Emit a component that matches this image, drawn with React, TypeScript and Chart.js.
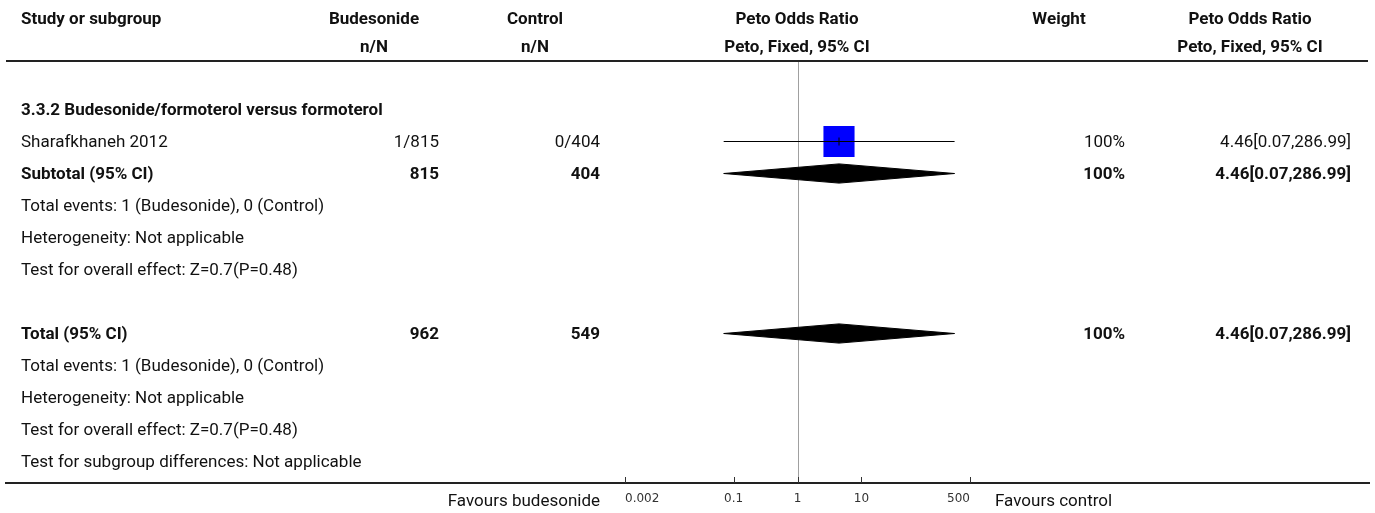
import React, { useEffect, useRef } from 'react';
import { Chart, registerables } from 'chart.js';

Chart.register(...registerables);

// ---------- data ----------
const xTickValues = [0.002, 0.1, 1, 10, 500];
const headerTop = ['Study or subgroup', 'Budesonide', 'Control', 'Peto Odds Ratio', 'Weight', 'Peto Odds Ratio'];
const headerBottom = ['', 'n/N', 'n/N', 'Peto, Fixed, 95% CI', '', 'Peto, Fixed, 95% CI'];
const subgroupTitle = '3.3.2 Budesonide/formoterol versus formoterol';

const studyNames = ['Sharafkhaneh 2012'];
const studyBudesonide = ['1/815'];
const studyControl = ['0/404'];
const studyWeight = ['100%'];
const studyEstimate = [4.46];
const studyLower = [0.07];
const studyUpper = [286.99];

const pooledLabels = ['Subtotal (95% CI)', 'Total (95% CI)'];
const pooledBudesonideN = ['815', '962'];
const pooledControlN = ['404', '549'];
const pooledWeight = ['100%', '100%'];
const pooledEstimate = [4.46, 4.46];
const pooledLower = [0.07, 0.07];
const pooledUpper = [286.99, 286.99];

const subtotalNotes = [
  'Total events: 1 (Budesonide), 0 (Control)',
  'Heterogeneity: Not applicable',
  'Test for overall effect: Z=0.7(P=0.48)',
];
const totalNotes = [
  'Total events: 1 (Budesonide), 0 (Control)',
  'Heterogeneity: Not applicable',
  'Test for overall effect: Z=0.7(P=0.48)',
  'Test for subgroup differences: Not applicable',
];
const favoursLeft = 'Favours budesonide';
const favoursRight = 'Favours control';

// ---------- layout (rows in row units, 1 row = 32px) ----------
const ROW_HEADER1 = -3.85;
const ROW_HEADER2 = -2.97;
const ROW_TITLE = -1;
const ROW_STUDY0 = 0;
const ROW_SUBTOTAL = 1;
const ROW_SUBNOTES = 2;
const ROW_TOTAL = 6;
const ROW_TOTNOTES = 7;
const pooledRows = [ROW_SUBTOTAL, ROW_TOTAL];
const DIAMOND_HALF = 0.3;
const Y_MIN = -2.5 - 0.5 / 32;
const Y_MAX = Y_MIN + 422 / 32;

const COL_LEFT = 21;
const COL_BUD_HEAD = 374;
const COL_BUD = 439;
const COL_CTL_HEAD = 535;
const COL_CTL = 600;
const COL_PLOT_HEAD = 797;
const COL_W_HEAD = 1059;
const COL_W = 1125;
const COL_CI_HEAD = 1250;
const COL_CI = 1351;

const FONT = 'Roboto, "Noto Sans", sans-serif';
const FS = 17;
const TEXT = '#111';

const fmt = (v: number) => v.toFixed(2);
const ciText = (e: number, l: number, u: number) => `${fmt(e)}[${fmt(l)},${fmt(u)}]`;

const forestPlugin = {
  id: 'forestText',
  beforeDatasetsDraw(chart: any) {
    const { ctx, chartArea, scales } = chart;
    const x1 = scales.x.getPixelForValue(1);
    ctx.save();
    ctx.strokeStyle = '#a0a0a0';
    ctx.lineWidth = 1;
    ctx.beginPath();
    ctx.moveTo(Math.round(x1) + 0.5, chartArea.top);
    ctx.lineTo(Math.round(x1) + 0.5, chartArea.bottom);
    ctx.stroke();
    ctx.restore();
  },
  afterDraw(chart: any) {
    const { ctx, chartArea, scales } = chart;
    const y = (r: number) => scales.y.getPixelForValue(r) + 1;
    ctx.save();
    // rules
    ctx.strokeStyle = '#222';
    ctx.lineWidth = 2;
    ctx.beginPath();
    ctx.moveTo(6, chartArea.top);
    ctx.lineTo(1368, chartArea.top);
    ctx.moveTo(5, chartArea.bottom);
    ctx.lineTo(1370, chartArea.bottom);
    ctx.stroke();
    // axis ticks (upward)
    ctx.strokeStyle = '#333';
    ctx.lineWidth = 1;
    ctx.beginPath();
    xTickValues.forEach((v) => {
      const px = Math.round(scales.x.getPixelForValue(v)) + 0.5;
      ctx.moveTo(px, chartArea.bottom - 6);
      ctx.lineTo(px, chartArea.bottom);
    });
    ctx.stroke();

    ctx.fillStyle = TEXT;
    ctx.textBaseline = 'middle';
    const put = (s: string, x: number, yy: number, align: CanvasTextAlign, bold = false) => {
      ctx.font = `${bold ? 'bold ' : ''}${FS}px ${FONT}`;
      ctx.textAlign = align;
      ctx.fillText(s, x, yy);
    };
    // headers
    const hx = [COL_LEFT, COL_BUD_HEAD, COL_CTL_HEAD, COL_PLOT_HEAD, COL_W_HEAD, COL_CI_HEAD];
    const ha: CanvasTextAlign[] = ['left', 'center', 'center', 'center', 'center', 'center'];
    headerTop.forEach((s, i) => put(s, hx[i], y(ROW_HEADER1), ha[i], true));
    headerBottom.forEach((s, i) => s && put(s, hx[i], y(ROW_HEADER2), ha[i], true));
    put(subgroupTitle, COL_LEFT, y(ROW_TITLE), 'left', true);
    studyNames.forEach((s, i) => {
      const r = ROW_STUDY0 + i;
      put(s, COL_LEFT, y(r), 'left');
      put(studyBudesonide[i], COL_BUD, y(r), 'right');
      put(studyControl[i], COL_CTL, y(r), 'right');
      put(studyWeight[i], COL_W, y(r), 'right');
      put(ciText(studyEstimate[i], studyLower[i], studyUpper[i]), COL_CI, y(r), 'right');
    });
    pooledLabels.forEach((s, i) => {
      const r = pooledRows[i];
      put(s, COL_LEFT, y(r), 'left', true);
      put(pooledBudesonideN[i], COL_BUD, y(r), 'right', true);
      put(pooledControlN[i], COL_CTL, y(r), 'right', true);
      put(pooledWeight[i], COL_W, y(r), 'right', true);
      put(ciText(pooledEstimate[i], pooledLower[i], pooledUpper[i]), COL_CI, y(r), 'right', true);
    });
    subtotalNotes.forEach((s, i) => put(s, COL_LEFT, y(ROW_SUBNOTES + i), 'left'));
    totalNotes.forEach((s, i) => put(s, COL_LEFT, y(ROW_TOTNOTES + i), 'left'));
    // favours
    const fy = chartArea.bottom + 19;
    put(favoursLeft, scales.x.left - 25, fy, 'right');
    put(favoursRight, scales.x.right + 25, fy, 'left');
    ctx.restore();
  },
};

export default function App() {
  const ref = useRef<HTMLCanvasElement | null>(null);
  useEffect(() => {
    if (!ref.current) return;
    const ciDatasets = studyNames.map((_, i) => ({
      type: 'line' as const,
      data: [
        { x: studyLower[i], y: ROW_STUDY0 + i },
        { x: studyUpper[i], y: ROW_STUDY0 + i },
      ],
      borderColor: '#000',
      borderWidth: 1,
      pointRadius: 0,
      showLine: true,
      order: 1,
    }));
    const tickDataset = {
      type: 'scatter' as const,
      data: studyNames.map((_, i) => ({ x: studyEstimate[i], y: ROW_STUDY0 + i })),
      pointStyle: 'line',
      rotation: 90,
      pointRadius: 4,
      borderColor: '#000',
      borderWidth: 1,
      order: 0,
    };
    const squareDataset = {
      type: 'scatter' as const,
      data: studyNames.map((_, i) => ({ x: studyEstimate[i], y: ROW_STUDY0 + i })),
      pointStyle: 'rect',
      pointRadius: 22,
      backgroundColor: '#0000ff',
      borderColor: '#0000ff',
      borderWidth: 0,
      order: 2,
    };
    const diamondDatasets = pooledLabels.map((_, i) => {
      const r = pooledRows[i];
      return {
        type: 'line' as const,
        data: [
          { x: pooledLower[i], y: r },
          { x: pooledEstimate[i], y: r - DIAMOND_HALF },
          { x: pooledUpper[i], y: r },
          { x: pooledEstimate[i], y: r + DIAMOND_HALF },
          { x: pooledLower[i], y: r },
        ],
        borderColor: '#000',
        backgroundColor: '#000',
        borderWidth: 1,
        pointRadius: 0,
        fill: 'shape',
        tension: 0,
        order: 3,
      };
    });
    const chart = new Chart(ref.current, {
      type: 'scatter',
      data: { datasets: [...ciDatasets, tickDataset, squareDataset, ...diamondDatasets] as any },
      options: {
        responsive: false,
        animation: false,
        devicePixelRatio: 1,
        layout: { padding: { left: 625, right: 405, top: 61, bottom: 0 } },
        plugins: { legend: { display: false }, tooltip: { enabled: false } },
        scales: {
          x: {
            type: 'logarithmic',
            min: 0.002,
            max: 500,
            grid: { display: false, drawTicks: false },
            border: { display: false },
            afterBuildTicks: (axis: any) => {
              axis.ticks = xTickValues.map((v) => ({ value: v }));
            },
            afterFit: (axis: any) => {
              axis.height = 30;
            },
            ticks: {
              align: 'inner',
              padding: 9,
              maxRotation: 0,
              autoSkip: false,
              color: '#333',
              font: { family: '"DejaVu Sans"', size: 12 },
              callback: (v: any) => String(v),
            },
          },
          y: {
            type: 'linear',
            min: Y_MIN,
            max: Y_MAX,
            reverse: true,
            display: false,
          },
        },
      } as any,
      plugins: [forestPlugin],
    });
    return () => chart.destroy();
  }, []);
  return (
    <div style={{ position: 'absolute', left: 0, top: 0, width: 1375, height: 513, background: '#fff' }}>
      <canvas ref={ref} width={1375} height={513} style={{ display: 'block', width: 1375, height: 513 }} />
    </div>
  );
}
